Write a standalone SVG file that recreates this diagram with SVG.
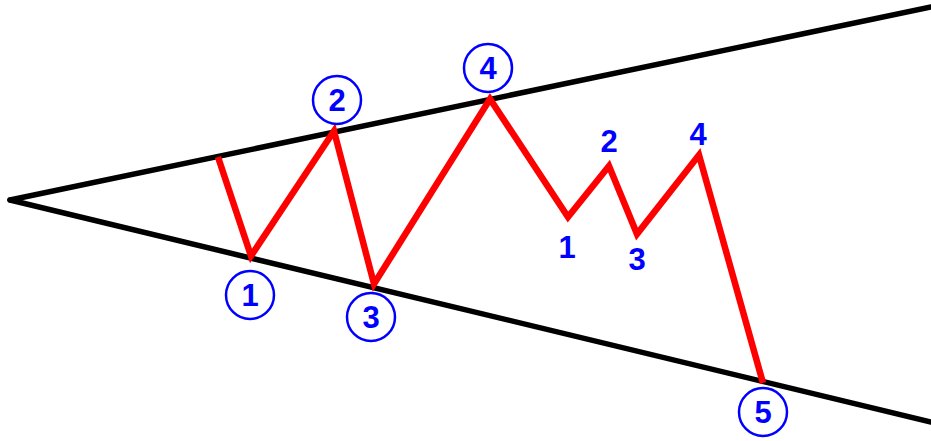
<svg xmlns="http://www.w3.org/2000/svg" width="931" height="441" viewBox="0 0 931 441">
<style>
.trend{stroke:#000;stroke-width:5.5;fill:none;stroke-linecap:round}
.wave{stroke:#ff0000;stroke-width:6.5;fill:none;stroke-linejoin:miter;stroke-miterlimit:3}
.ring{fill:#fff;stroke:#0000ff;stroke-width:2.5}
.num{font-family:"Liberation Sans",Arial,sans-serif;font-weight:bold;font-size:31px;fill:#0000ff;text-anchor:middle}
</style>
<rect width="931" height="441" fill="#fff"/>
<g id="connectors">
<line class="trend" x1="10" y1="200" x2="931" y2="7"/>
<line class="trend" x1="10" y1="200" x2="931" y2="422"/>
<polyline class="wave" points="218,157 251,256 334,131 374,284 490,99 568,217 609,166 637,234 699,155 763,383"/>
</g>
<g id="n1"><circle class="ring" cx="250" cy="295" r="24"/><text class="num" x="250" y="306">1</text></g>
<g id="n2"><circle class="ring" cx="337" cy="100" r="24"/><text class="num" x="337" y="111">2</text></g>
<g id="n3"><circle class="ring" cx="371" cy="317" r="24"/><text class="num" x="371" y="328">3</text></g>
<g id="n4"><circle class="ring" cx="488" cy="68" r="24"/><text class="num" x="488" y="79">4</text></g>
<g id="n5"><circle class="ring" cx="763" cy="412" r="24"/><text class="num" x="763" y="423">5</text></g>
<g id="s1"><text class="num" x="567" y="258">1</text></g>
<g id="s2"><text class="num" x="609" y="152">2</text></g>
<g id="s3"><text class="num" x="637" y="270">3</text></g>
<g id="s4"><text class="num" x="698" y="145">4</text></g>
</svg>
